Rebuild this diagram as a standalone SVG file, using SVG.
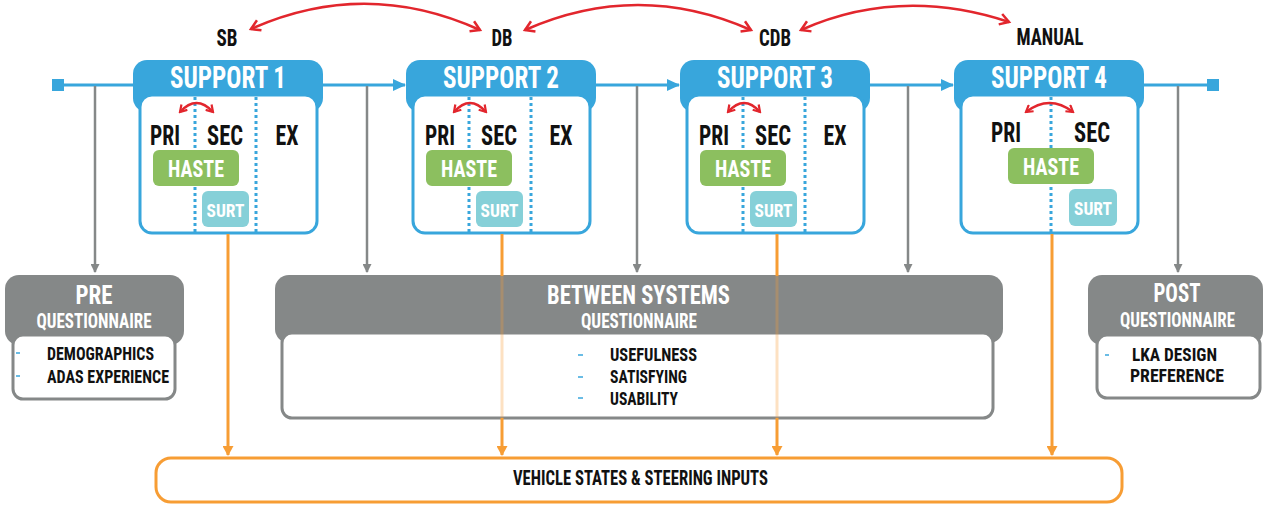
<svg xmlns="http://www.w3.org/2000/svg" width="1275" height="506" viewBox="0 0 1275 506">
<style>
.hdr{fill:#38a6dc}
.box{fill:#fff;stroke:#38a6dc;stroke-width:3}
.dot{stroke:#38a6dc;stroke-width:3;stroke-dasharray:3 3;fill:none}
.t{font-family:"Liberation Sans Narrow","Roboto Condensed","Liberation Sans",sans-serif;font-weight:bold;text-anchor:middle}
.l{text-anchor:start}
.w{fill:#fff}
.k{fill:#111}
.haste{fill:#8cbf5f}
.surt{fill:#86d0d8}
.ghdr{fill:#858888}
.gbox{fill:#fff;stroke:#858888;stroke-width:3}
.red{fill:none;stroke:#e2262d;stroke-width:2.5}
.redS{fill:none;stroke:#e2262d;stroke-width:2.5}
.blue{stroke:#38a6dc;stroke-width:3;fill:none}
.gray{stroke:#858888;stroke-width:2.5;fill:none}
.org{stroke:#f79d34;stroke-width:3;fill:none}
.dash{stroke:#38a6dc;stroke-width:1.5}
</style>
<defs>
<marker id="ab" markerUnits="userSpaceOnUse" markerWidth="13" markerHeight="12" refX="12" refY="6" orient="auto"><path d="M0,0 L13,6 L0,12 z" fill="#38a6dc"/></marker>
<marker id="ag" markerUnits="userSpaceOnUse" markerWidth="9" markerHeight="9" refX="8" refY="4.5" orient="auto"><path d="M0,0 L9,4.5 L0,9 z" fill="#858888"/></marker>
<marker id="ao" markerUnits="userSpaceOnUse" markerWidth="10" markerHeight="11" refX="9" refY="5.5" orient="auto"><path d="M0,0 L10,5.5 L0,11 z" fill="#f79d34"/></marker>
<marker id="ar" markerUnits="userSpaceOnUse" markerWidth="14" markerHeight="14" refX="11" refY="7" orient="auto-start-reverse"><path d="M2,1.5 L11,7 L2,12.5" fill="none" stroke="#e2262d" stroke-width="2.5"/></marker>
<marker id="ars" markerUnits="userSpaceOnUse" markerWidth="10" markerHeight="10" refX="8" refY="5" orient="auto-start-reverse"><path d="M1.5,1 L8,5 L1.5,9" fill="none" stroke="#e2262d" stroke-width="2.2"/></marker>
</defs>

<g id="label-sb"><text class="t k" x="227" y="46" font-size="23" textLength="21" lengthAdjust="spacingAndGlyphs">SB</text></g>
<g id="label-db"><text class="t k" x="502" y="46" font-size="23" textLength="21" lengthAdjust="spacingAndGlyphs">DB</text></g>
<g id="label-cdb"><text class="t k" x="775" y="46" font-size="23" textLength="32" lengthAdjust="spacingAndGlyphs">CDB</text></g>
<g id="label-manual"><text class="t k" x="1050" y="45" font-size="23" textLength="67" lengthAdjust="spacingAndGlyphs">MANUAL</text></g>

<g id="support1">
<rect class="hdr" x="133" y="60" width="190" height="52" rx="14"/>
<rect class="box" x="140" y="95" width="177" height="138" rx="12"/>
<text class="t w" x="228" y="88" font-size="32" textLength="116" lengthAdjust="spacingAndGlyphs">SUPPORT 1</text>
<line class="dot" x1="195" y1="97" x2="195" y2="232"/>
<line class="dot" x1="256" y1="97" x2="256" y2="232"/>
<path class="redS" d="M180,112 Q196.5,94 213,112" marker-start="url(#ars)" marker-end="url(#ars)"/>
<text class="t k" x="165" y="145" font-size="28" textLength="30" lengthAdjust="spacingAndGlyphs">PRI</text>
<text class="t k" x="225" y="145" font-size="28" textLength="36" lengthAdjust="spacingAndGlyphs">SEC</text>
<text class="t k" x="287" y="145" font-size="28" textLength="23" lengthAdjust="spacingAndGlyphs">EX</text>
<rect class="haste" x="153" y="150" width="86" height="36" rx="6"/>
<text class="t w" x="196" y="177" font-size="24" textLength="56" lengthAdjust="spacingAndGlyphs">HASTE</text>
<rect class="surt" x="202" y="191" width="47" height="36" rx="6"/>
<text class="t w" x="225.5" y="217" font-size="19" textLength="38" lengthAdjust="spacingAndGlyphs">SURT</text>
</g>

<g id="support2">
<rect class="hdr" x="406" y="60" width="190" height="52" rx="14"/>
<rect class="box" x="413" y="95" width="177" height="138" rx="12"/>
<text class="t w" x="501" y="88" font-size="32" textLength="116" lengthAdjust="spacingAndGlyphs">SUPPORT 2</text>
<line class="dot" x1="469" y1="97" x2="469" y2="232"/>
<line class="dot" x1="531" y1="97" x2="531" y2="232"/>
<path class="redS" d="M454,112 Q470,94 486,112" marker-start="url(#ars)" marker-end="url(#ars)"/>
<text class="t k" x="440" y="145" font-size="28" textLength="30" lengthAdjust="spacingAndGlyphs">PRI</text>
<text class="t k" x="499" y="145" font-size="28" textLength="36" lengthAdjust="spacingAndGlyphs">SEC</text>
<text class="t k" x="561" y="145" font-size="28" textLength="23" lengthAdjust="spacingAndGlyphs">EX</text>
<rect class="haste" x="426" y="150" width="86" height="36" rx="6"/>
<text class="t w" x="469" y="177" font-size="24" textLength="56" lengthAdjust="spacingAndGlyphs">HASTE</text>
<rect class="surt" x="476" y="191" width="47" height="36" rx="6"/>
<text class="t w" x="499.5" y="217" font-size="19" textLength="38" lengthAdjust="spacingAndGlyphs">SURT</text>
</g>

<g id="support3">
<rect class="hdr" x="680" y="60" width="190" height="52" rx="14"/>
<rect class="box" x="687" y="95" width="177" height="138" rx="12"/>
<text class="t w" x="775" y="88" font-size="32" textLength="116" lengthAdjust="spacingAndGlyphs">SUPPORT 3</text>
<line class="dot" x1="743" y1="97" x2="743" y2="232"/>
<line class="dot" x1="805" y1="97" x2="805" y2="232"/>
<path class="redS" d="M728,112 Q744,94 760,112" marker-start="url(#ars)" marker-end="url(#ars)"/>
<text class="t k" x="714" y="145" font-size="28" textLength="30" lengthAdjust="spacingAndGlyphs">PRI</text>
<text class="t k" x="773" y="145" font-size="28" textLength="36" lengthAdjust="spacingAndGlyphs">SEC</text>
<text class="t k" x="835" y="145" font-size="28" textLength="23" lengthAdjust="spacingAndGlyphs">EX</text>
<rect class="haste" x="700" y="150" width="86" height="36" rx="6"/>
<text class="t w" x="743" y="177" font-size="24" textLength="56" lengthAdjust="spacingAndGlyphs">HASTE</text>
<rect class="surt" x="750" y="191" width="47" height="36" rx="6"/>
<text class="t w" x="773.5" y="217" font-size="19" textLength="38" lengthAdjust="spacingAndGlyphs">SURT</text>
</g>

<g id="support4">
<rect class="hdr" x="954" y="60" width="190" height="52" rx="14"/>
<rect class="box" x="961" y="95" width="177" height="138" rx="12"/>
<text class="t w" x="1049" y="88" font-size="32" textLength="116" lengthAdjust="spacingAndGlyphs">SUPPORT 4</text>
<line class="dot" x1="1051" y1="97" x2="1051" y2="232"/>
<path class="redS" d="M1026,112 Q1049.5,94 1073,112" marker-start="url(#ars)" marker-end="url(#ars)"/>
<text class="t k" x="1006" y="142" font-size="28" textLength="30" lengthAdjust="spacingAndGlyphs">PRI</text>
<text class="t k" x="1092" y="142" font-size="28" textLength="36" lengthAdjust="spacingAndGlyphs">SEC</text>
<rect class="haste" x="1008" y="148" width="86" height="36" rx="6"/>
<text class="t w" x="1051" y="175" font-size="24" textLength="56" lengthAdjust="spacingAndGlyphs">HASTE</text>
<rect class="surt" x="1069" y="189" width="48" height="37" rx="6"/>
<text class="t w" x="1093" y="215" font-size="19" textLength="38" lengthAdjust="spacingAndGlyphs">SURT</text>
</g>

<g id="pre">
<rect class="ghdr" x="5" y="275" width="179" height="70" rx="14"/>
<rect class="gbox" x="13" y="335" width="162" height="64" rx="10"/>
<text class="t w" x="94" y="304" font-size="26" textLength="37" lengthAdjust="spacingAndGlyphs">PRE</text>
<text class="t w" x="94" y="328" font-size="20" textLength="115" lengthAdjust="spacingAndGlyphs">QUESTIONNAIRE</text>
<line class="dash" x1="16" y1="353" x2="20" y2="353"/>
<line class="dash" x1="16" y1="376" x2="20" y2="376"/>
<text class="t k l" x="47" y="360" font-size="19" textLength="107" lengthAdjust="spacingAndGlyphs">DEMOGRAPHICS</text>
<text class="t k l" x="47" y="383" font-size="19" textLength="122" lengthAdjust="spacingAndGlyphs">ADAS EXPERIENCE</text>
</g>

<g id="between">
<rect class="ghdr" x="275" y="275" width="728" height="68" rx="14"/>
<rect class="gbox" x="282" y="333" width="711" height="85" rx="10"/>
<text class="t w" x="638.5" y="304" font-size="26" textLength="183" lengthAdjust="spacingAndGlyphs">BETWEEN SYSTEMS</text>
<text class="t w" x="639" y="328" font-size="20" textLength="116" lengthAdjust="spacingAndGlyphs">QUESTIONNAIRE</text>
<line class="dash" x1="578" y1="355" x2="583" y2="355"/>
<line class="dash" x1="578" y1="377" x2="583" y2="377"/>
<line class="dash" x1="578" y1="398" x2="583" y2="398"/>
<text class="t k l" x="610" y="361" font-size="19" textLength="87" lengthAdjust="spacingAndGlyphs">USEFULNESS</text>
<text class="t k l" x="610" y="383" font-size="19" textLength="77" lengthAdjust="spacingAndGlyphs">SATISFYING</text>
<text class="t k l" x="610" y="405" font-size="19" textLength="68" lengthAdjust="spacingAndGlyphs">USABILITY</text>
</g>

<g id="post">
<rect class="ghdr" x="1088" y="275" width="175" height="70" rx="14"/>
<rect class="gbox" x="1097" y="335" width="163" height="63" rx="10"/>
<text class="t w" x="1177" y="302" font-size="26" textLength="47" lengthAdjust="spacingAndGlyphs">POST</text>
<text class="t w" x="1177.5" y="327" font-size="20" textLength="115" lengthAdjust="spacingAndGlyphs">QUESTIONNAIRE</text>
<line class="dash" x1="1105" y1="355" x2="1109" y2="355"/>
<text class="t k l" x="1132" y="361" font-size="19" textLength="85" lengthAdjust="spacingAndGlyphs">LKA DESIGN</text>
<text class="t k l" x="1130" y="382" font-size="19" textLength="94" lengthAdjust="spacingAndGlyphs">PREFERENCE</text>
</g>

<g id="vehicle">
<rect x="156" y="458" width="966" height="44" rx="15" fill="#fff" stroke="#f79d34" stroke-width="3"/>
<text class="t k" x="640.5" y="485" font-size="20" textLength="255" lengthAdjust="spacingAndGlyphs">VEHICLE STATES &amp; STEERING INPUTS</text>
</g>

<g id="connectors">
<rect x="52" y="79" width="12" height="12" fill="#38a6dc"/>
<rect x="1207" y="79" width="12" height="12" fill="#38a6dc"/>
<line class="blue" x1="64" y1="85" x2="133" y2="85"/>
<line class="blue" x1="323" y1="85" x2="405" y2="85" marker-end="url(#ab)"/>
<line class="blue" x1="596" y1="85" x2="679" y2="85" marker-end="url(#ab)"/>
<line class="blue" x1="870" y1="85" x2="953" y2="85" marker-end="url(#ab)"/>
<line class="blue" x1="1144" y1="85" x2="1207" y2="85"/>

<line class="gray" x1="95" y1="86" x2="95" y2="272" marker-end="url(#ag)"/>
<line class="gray" x1="367" y1="86" x2="367" y2="272" marker-end="url(#ag)"/>
<line class="gray" x1="637" y1="86" x2="637" y2="272" marker-end="url(#ag)"/>
<line class="gray" x1="908" y1="86" x2="908" y2="272" marker-end="url(#ag)"/>
<line class="gray" x1="1178" y1="86" x2="1178" y2="272" marker-end="url(#ag)"/>

<line class="org" x1="228" y1="234" x2="228" y2="455" marker-end="url(#ao)"/>
<line class="org" x1="502" y1="234" x2="502" y2="276"/>
<line class="org" x1="502" y1="276" x2="502" y2="418" opacity="0.3"/>
<line class="org" x1="502" y1="418" x2="502" y2="455" marker-end="url(#ao)"/>
<line class="org" x1="777" y1="234" x2="777" y2="276"/>
<line class="org" x1="777" y1="276" x2="777" y2="418" opacity="0.3"/>
<line class="org" x1="777" y1="418" x2="777" y2="455" marker-end="url(#ao)"/>
<line class="org" x1="1052" y1="234" x2="1052" y2="455" marker-end="url(#ao)"/>

<path class="red" d="M251,29 Q365,-22 480,30" marker-start="url(#ar)" marker-end="url(#ar)"/>
<path class="red" d="M525,30 Q638,-20 751,30" marker-start="url(#ar)" marker-end="url(#ar)"/>
<path class="red" d="M801,30 Q900,-14 1009,22" marker-start="url(#ar)" marker-end="url(#ar)"/>
</g>
</svg>
